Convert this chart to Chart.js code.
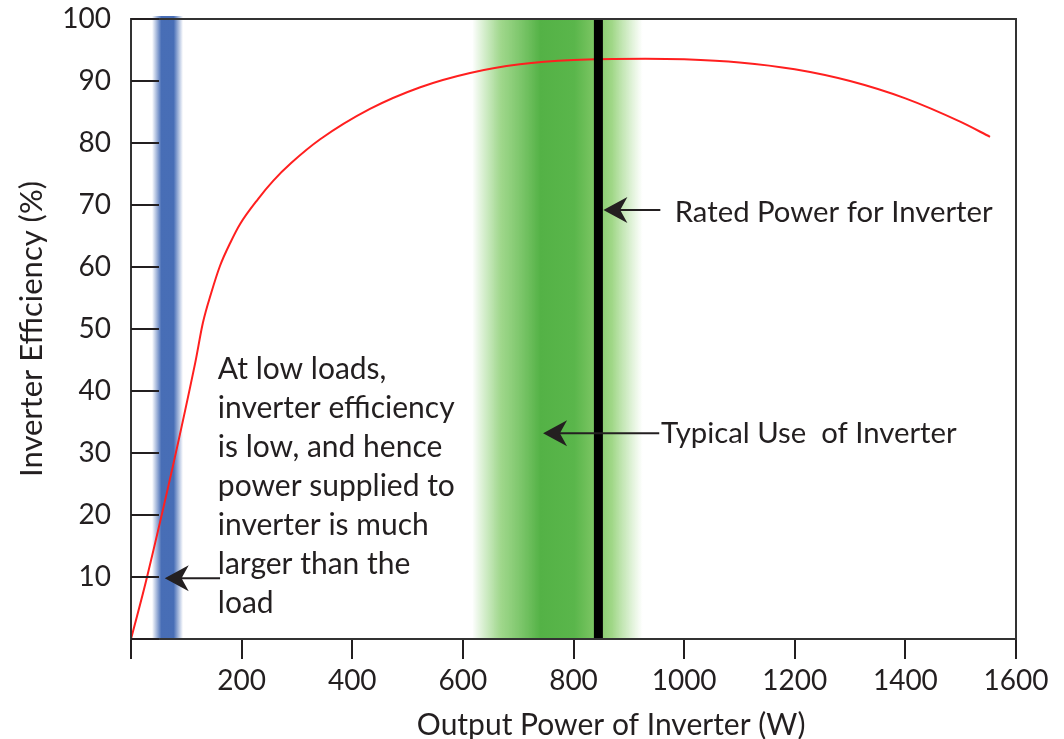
<!DOCTYPE html>
<html>
<head>
<meta charset="utf-8">
<script src="https://cdn.jsdelivr.net/npm/chart.js@4.4.1/dist/chart.umd.min.js"></script>
<style>
html, body { margin: 0; padding: 0; background: #fff; }
#wrap { width: 1064px; height: 739px; }
</style>
</head>
<body>
<div id="wrap"><canvas id="effChart"></canvas></div>
<script>
// efficiency curve
const powerW = [0, 29, 116, 130, 145, 161, 180, 197, 230, 257, 290, 342, 432, 523, 613, 703, 800, 930, 1000, 1100, 1200, 1300, 1400, 1500, 1553];
const efficiency = [0, 10, 44.5, 51, 55.8, 60.2, 64, 66.9, 71.0, 73.9, 76.8, 80.6, 85.5, 89.0, 91.3, 92.7, 93.4, 93.6, 93.5, 93.0, 91.9, 90.0, 87.2, 83.4, 81.0];

const xTicks = [0, 200, 400, 600, 800, 1000, 1200, 1400, 1600];
const yTicks = [0, 10, 20, 30, 40, 50, 60, 70, 80, 90, 100];

// shaded regions (W)
const lowLoadBand = [38, 94];
const typicalBand = [617, 925];
const ratedPower = 845;

const lowLoadText = ['At low loads,', 'inverter efficiency', 'is low, and hence', 'power supplied to', 'inverter is much', 'larger than the', 'load'];
const ratedText = 'Rated Power for Inverter';
const typicalText = 'Typical Use  of Inverter';
const xTitle = 'Output Power of Inverter (W)';

const FONT = 'Lato';
const INK = '#231f20';

function arrowLeft(ctx, tailX, tipX, yy, len, half) {
    ctx.strokeStyle = INK;
    ctx.lineWidth = 2;
    ctx.beginPath();
    ctx.moveTo(tailX, yy);
    ctx.lineTo(tipX + len * 0.6, yy);
    ctx.stroke();
    ctx.fillStyle = INK;
    ctx.beginPath();
    ctx.moveTo(tipX, yy);
    ctx.lineTo(tipX + len, yy - half);
    ctx.lineTo(tipX + len * 0.7, yy);
    ctx.lineTo(tipX + len, yy + half);
    ctx.closePath();
    ctx.fill();
}

const annotate = {
    id: 'annotate',
    beforeDatasetsDraw(chart) {
        const { ctx, chartArea: a, scales: { x } } = chart;
        ctx.save();
        // low load band (blue)
        let b0 = x.getPixelForValue(lowLoadBand[0]);
        let b1 = x.getPixelForValue(lowLoadBand[1]);
        let g = ctx.createLinearGradient(b0, 0, b1, 0);
        g.addColorStop(0, 'rgba(62,102,178,0)');
        g.addColorStop(0.3, 'rgba(62,102,178,0.95)');
        g.addColorStop(0.7, 'rgba(62,102,178,0.95)');
        g.addColorStop(1, 'rgba(62,102,178,0)');
        ctx.fillStyle = g;
        ctx.fillRect(b0, a.top - 3, b1 - b0, a.bottom - a.top + 3);

        // typical use band (green)
        b0 = x.getPixelForValue(typicalBand[0]);
        b1 = x.getPixelForValue(typicalBand[1]);
        g = ctx.createLinearGradient(b0, 0, b1, 0);
        g.addColorStop(0, 'rgba(120,200,95,0)');
        g.addColorStop(0.17, 'rgba(135,205,110,0.8)');
        g.addColorStop(0.4, 'rgb(84,178,70)');
        g.addColorStop(0.6, 'rgb(90,182,75)');
        g.addColorStop(0.72, 'rgb(125,198,100)');
        g.addColorStop(0.82, 'rgb(160,215,135)');
        g.addColorStop(1, 'rgba(170,220,150,0)');
        ctx.fillStyle = g;
        ctx.fillRect(b0, a.top, b1 - b0, a.bottom - a.top);
        ctx.restore();
    },
    afterDatasetsDraw(chart) {
        const { ctx, chartArea: a, scales: { x, y } } = chart;
        ctx.save();
        // rated power line
        const rp = x.getPixelForValue(ratedPower);
        ctx.fillStyle = '#000';
        ctx.fillRect(rp - 4.5, a.top, 9, a.bottom - a.top);

        // frame
        ctx.strokeStyle = '#333';
        ctx.lineWidth = 2;
        ctx.strokeRect(a.left, a.top, a.right - a.left, a.bottom - a.top);

        // inward y ticks
        ctx.strokeStyle = INK;
        yTicks.forEach(v => {
            const py = y.getPixelForValue(v);
            ctx.beginPath();
            ctx.moveTo(a.left, py);
            ctx.lineTo(a.left + 28, py);
            ctx.stroke();
        });

        // arrows
        arrowLeft(ctx, x.getPixelForValue(957), rp + 5, y.getPixelForValue(69.2), 24, 13);
        arrowLeft(ctx, x.getPixelForValue(955), x.getPixelForValue(745), y.getPixelForValue(33.2), 24, 13);
        arrowLeft(ctx, x.getPixelForValue(161), x.getPixelForValue(61), y.getPixelForValue(9.8), 24, 13);

        // labels
        ctx.fillStyle = INK;
        ctx.textBaseline = 'alphabetic';
        ctx.textAlign = 'left';
        ctx.font = '29.3px ' + FONT;
        ctx.fillText(ratedText, x.getPixelForValue(983), y.getPixelForValue(67.3));
        ctx.fillText(typicalText, x.getPixelForValue(958), y.getPixelForValue(31.6));
        ctx.font = '30px ' + FONT;
        const lx = x.getPixelForValue(157);
        lowLoadText.forEach((t, i) => {
            ctx.fillText(t, lx, y.getPixelForValue(42.0) + i * 39);
        });

        // x axis title, sits right of centre in the original
        ctx.textAlign = 'center';
        ctx.textBaseline = 'middle';
        ctx.fillText(xTitle, x.getPixelForValue(868), a.bottom + 86);
        ctx.restore();
    }
};

new Chart(document.getElementById('effChart'), {
    type: 'line',
    data: {
        datasets: [{
            data: powerW.map((p, i) => ({ x: p, y: efficiency[i] })),
            borderColor: '#ff1f1f',
            borderWidth: 2,
            pointRadius: 0,
            fill: false,
            cubicInterpolationMode: 'monotone'
        }]
    },
    options: {
        responsive: true,
        maintainAspectRatio: false,
        animation: false,
        layout: { padding: { top: 19, right: 48, left: 0, bottom: 0 } },
        plugins: { legend: { display: false }, tooltip: { enabled: false } },
        scales: {
            x: {
                type: 'linear',
                min: 0,
                max: 1600,
                afterBuildTicks: s => { s.ticks = xTicks.map(v => ({ value: v })); },
                afterFit: s => { s.height = 100; },
                border: { display: false },
                grid: { drawOnChartArea: false, drawTicks: true, tickLength: 20, color: INK, lineWidth: 2 },
                ticks: {
                    autoSkip: false,
                    maxRotation: 0,
                    padding: 5,
                    color: INK,
                    font: { family: FONT, size: 28 },
                    callback: v => v === 0 ? '' : v
                },
                title: { display: false }
            },
            y: {
                min: 0,
                max: 100,
                afterBuildTicks: s => { s.ticks = yTicks.map(v => ({ value: v })); },
                afterFit: s => { s.width = 131; s.paddingTop = 0; s.paddingBottom = 0; },
                border: { display: false },
                grid: { display: false, drawTicks: false },
                ticks: {
                    padding: 20,
                    color: INK,
                    font: { family: FONT, size: 28 },
                    callback: v => v === 0 ? '' : v
                },
                title: {
                    display: true,
                    text: 'Inverter Efficiency (%)',
                    color: INK,
                    font: { family: FONT, size: 31, lineHeight: 1 },
                    padding: { top: 16, bottom: 0 }
                }
            }
        }
    },
    plugins: [annotate]
});
</script>
</body>
</html>
